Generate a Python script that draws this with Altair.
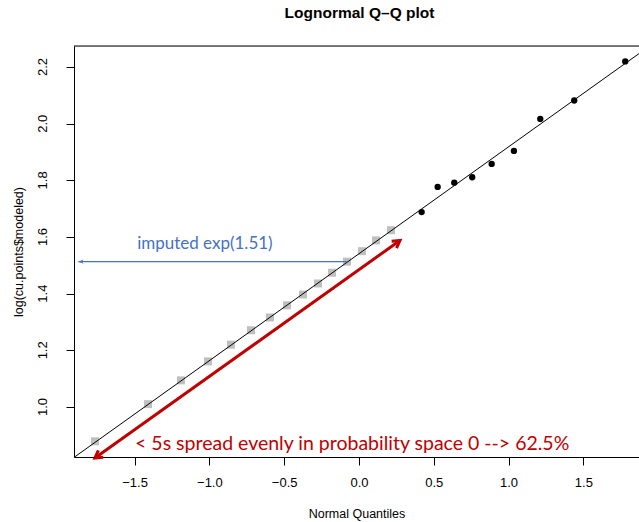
import math
import altair as alt
import pandas as pd

# Theoretical normal quantiles and log values for the imputed (below-limit) samples
imputed_q = [-1.765, -1.410, -1.190, -1.009, -0.856, -0.722, -0.595, -0.481,
             -0.374, -0.274, -0.180, -0.080, 0.020, 0.114, 0.214]
imputed_log = [0.879, 1.010, 1.094, 1.161, 1.220, 1.271, 1.316, 1.359,
               1.397, 1.436, 1.474, 1.513, 1.550, 1.588, 1.624]

# Measured samples
measured_q = [0.419, 0.526, 0.637, 0.757, 0.887, 1.036, 1.212, 1.439, 1.780]
measured_log = [1.688, 1.777, 1.792, 1.811, 1.858, 1.904, 2.017, 2.082, 2.220]

# Reference (qq) line
line_intercept = 1.541
line_slope = 0.3774

# Annotations (data coordinates)
blue_arrow_x = [-0.082, -1.876]
blue_arrow_y = [1.513, 1.513]
blue_label = "imputed exp(1.51)"
blue_label_xy = [-1.030, 1.576]

red_arrow_x = [0.274, -1.765]
red_arrow_y = [1.588, 0.820]
red_label = "< 5s spread evenly in probability space 0 --> 62.5%"
red_label_xy = [-1.497, 0.868]

y_ticks = [1.0, 1.2, 1.4, 1.6, 1.8, 2.0, 2.2]
x_ticks = [-1.5, -1.0, -0.5, 0.0, 0.5, 1.0, 1.5]

X_DOM = [-1.905, 1.872]
Y_DOM = [0.8235, 2.2743]
W, H = 565, 411

FONT = "Liberation Sans"
BLUE = "#4472C4"
RED = "#C00000"

x_scale = alt.Scale(domain=X_DOM, nice=False, zero=False)
y_scale = alt.Scale(domain=Y_DOM, nice=False, zero=False)

x_enc = alt.X("q:Q", scale=x_scale, title="Normal Quantiles",
              axis=alt.Axis(values=x_ticks, format=".1f", grid=False,
                            tickSize=8, tickColor="black", domainColor="black",
                            labelFont=FONT, labelFontSize=13, labelColor="black",
                            labelPadding=11, titleFont=FONT, titleFontSize=12.5,
                            titleFontWeight="normal", titleColor="black",
                            titlePadding=18))
# y tick labels are drawn as a rotated text layer below
y_enc = alt.Y("v:Q", scale=y_scale, title="log(cu.points$modeled)",
              axis=alt.Axis(values=y_ticks, grid=False, labels=False,
                            tickSize=8, tickColor="black", domainColor="black",
                            titleFont=FONT, titleFontSize=12.5,
                            titleFontWeight="normal", titleColor="black",
                            titleAngle=270, titleAlign="center",
                            titleBaseline="middle", titleX=-56, titleY=H / 2))

imp_df = pd.DataFrame({"q": imputed_q, "v": imputed_log})
meas_df = pd.DataFrame({"q": measured_q, "v": measured_log})
line_df = pd.DataFrame({"q": X_DOM,
                        "v": [line_intercept + line_slope * x for x in X_DOM]})
ytick_df = pd.DataFrame({"v": y_ticks, "t": [f"{v:.1f}" for v in y_ticks]})

imputed = alt.Chart(imp_df).mark_square(size=64, color="#bfbfbf", opacity=1).encode(x=x_enc, y=y_enc)
measured = alt.Chart(meas_df).mark_circle(size=40, color="black", opacity=1).encode(x="q:Q", y="v:Q")
qqline = alt.Chart(line_df).mark_line(color="black", strokeWidth=1, clip=True).encode(x="q:Q", y="v:Q")

ytick_labels = alt.Chart(ytick_df).mark_text(
    font=FONT, fontSize=13, color="black", angle=270, align="center", baseline="middle"
).encode(x=alt.value(-31), y="v:Q", text="t:N")

top_border = alt.Chart(pd.DataFrame({"a": [0]})).mark_rule(color="black", strokeWidth=1).encode(
    x=alt.value(0), x2=alt.value(W), y=alt.value(0))

# pixel scale factors for arrowhead orientation
px_x = W / (X_DOM[1] - X_DOM[0])
px_y = H / (Y_DOM[1] - Y_DOM[0])


def head_angle(x0, y0, x1, y1):
    """Clockwise screen angle (deg) of the direction from point 0 to point 1."""
    dx = (x1 - x0) * px_x
    dy = -(y1 - y0) * px_y
    return math.degrees(math.atan2(dy, dx)) % 360


CHEVRON = "M -1.2 -0.7 L 0 0 L -1.2 0.7"
TRIANGLE = "M 0 0 L -1.3 -0.55 L -0.95 0 L -1.3 0.55 Z"

# blue arrow
blue_df = pd.DataFrame({"q": blue_arrow_x, "v": blue_arrow_y})
blue_line = alt.Chart(blue_df).mark_line(color=BLUE, strokeWidth=1.3).encode(x="q:Q", y="v:Q")
blue_head = alt.Chart(pd.DataFrame({"q": [blue_arrow_x[1]], "v": [blue_arrow_y[1]]})).mark_point(
    shape=TRIANGLE, size=64, filled=True, color=BLUE, opacity=1,
    angle=head_angle(blue_arrow_x[0], blue_arrow_y[0], blue_arrow_x[1], blue_arrow_y[1])
).encode(x="q:Q", y="v:Q")
blue_text = alt.Chart(pd.DataFrame({"q": [blue_label_xy[0]], "v": [blue_label_xy[1]], "t": [blue_label]})).mark_text(
    font="Lato", fontSize=17, color=BLUE, align="center", baseline="middle"
).encode(x="q:Q", y="v:Q", text="t:N")

# red double-headed arrow
red_df = pd.DataFrame({"q": red_arrow_x, "v": red_arrow_y})
red_line = alt.Chart(red_df).mark_line(color=RED, strokeWidth=3, clip=False).encode(x="q:Q", y="v:Q")
ang_down = head_angle(red_arrow_x[0], red_arrow_y[0], red_arrow_x[1], red_arrow_y[1])
ang_up = head_angle(red_arrow_x[1], red_arrow_y[1], red_arrow_x[0], red_arrow_y[0])
red_head_lo = alt.Chart(pd.DataFrame({"q": [red_arrow_x[1]], "v": [red_arrow_y[1]]})).mark_point(
    shape=CHEVRON, size=144, filled=False, stroke=RED, strokeWidth=3, opacity=1,
    strokeJoin="miter", angle=ang_down
).encode(x="q:Q", y="v:Q")
red_head_hi = alt.Chart(pd.DataFrame({"q": [red_arrow_x[0]], "v": [red_arrow_y[0]]})).mark_point(
    shape=CHEVRON, size=144, filled=False, stroke=RED, strokeWidth=3, opacity=1,
    strokeJoin="miter", angle=ang_up
).encode(x="q:Q", y="v:Q")
red_text = alt.Chart(pd.DataFrame({"q": [red_label_xy[0]], "v": [red_label_xy[1]], "t": [red_label]})).mark_text(
    font="Lato", fontSize=19.5, color=RED, align="left", baseline="middle"
).encode(x="q:Q", y="v:Q", text="t:N")

chart = alt.layer(
    imputed, qqline, measured, top_border, ytick_labels,
    blue_line, blue_head, blue_text,
    red_line, red_head_lo, red_head_hi, red_text,
).properties(
    width=W, height=H,
    title=alt.TitleParams("Lognormal Q\u2013Q plot", font=FONT, fontSize=15.5,
                          fontWeight="bold", color="black", anchor="middle",
                          offset=24, dx=3),
    autosize=alt.AutoSizeParams(type="none"),
    padding={"left": 74, "top": 46, "right": 0, "bottom": 65},
).configure_view(stroke=None).configure(background="white")

chart.save("out.html", embed_options={"renderer": "svg", "actions": False})
